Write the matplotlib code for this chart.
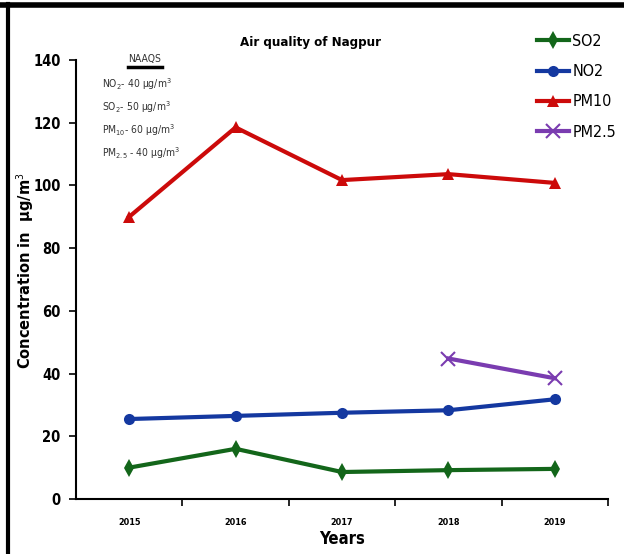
import matplotlib
matplotlib.use("Agg")
import matplotlib.pyplot as plt
from matplotlib.lines import Line2D

years = ["2015", "2016", "2017", "2018", "2019"]
so2 = [10.0, 16.0, 8.6, 9.2, 9.6]
no2 = [25.5, 26.5, 27.5, 28.3, 31.8]
pm10 = [90.0, 118.5, 101.7, 103.6, 100.8]
pm25_years = ["2018", "2019"]
pm25 = [44.8, 38.5]

plt.rcParams['font.family'] = ['DejaVu Sans']
plt.rcParams['font.stretch'] = 'condensed'

fig = plt.figure(figsize=(6.24, 5.54), dpi=100)
ax = fig.add_axes([0.1218, 0.0993, 0.8526, 0.7924])

x = list(range(len(years)))
xp = [years.index(y) for y in pm25_years]

ax.plot(x, so2, color="#13661a", lw=3, marker="d", ms=9, mew=0, label="SO2")
ax.plot(x, no2, color="#1438a0", lw=3, marker="o", ms=8, mew=0, label="NO2")
ax.plot(x, pm10, color="#cc0a0a", lw=3, marker="^", ms=9, mew=0, label="PM10")
ax.plot(xp, pm25, color="#7a3cb0", lw=3, marker="x", ms=10, mew=1.5, label="PM2.5")

ax.set_xlim(-0.5, len(years) - 0.5)
ax.set_ylim(0, 140)
ax.set_yticks(range(0, 141, 20))
ax.set_xticks(x)
ax.set_xticklabels(years, fontsize=6.5, fontweight="bold")
ax.set_xticks([i + 0.5 for i in range(len(years))], minor=True)
ax.tick_params(axis="x", which="major", length=0, pad=14)
ax.tick_params(axis="x", which="minor", length=5, width=1.2, direction="out")
ax.tick_params(axis="y", labelsize=10.5, length=5, width=1.2, direction="out", pad=6)
for lab in ax.get_yticklabels():
    lab.set_fontweight("bold")
ax.spines["top"].set_visible(False)
ax.spines["right"].set_visible(False)
ax.spines["left"].set_linewidth(1.5)
ax.spines["bottom"].set_linewidth(1.5)

ax.set_xlabel("Years", fontsize=12, fontweight="bold", labelpad=2)
ax.set_ylabel("Concentration in  µg/m$^3$", fontsize=10.5, fontweight="bold",
              stretch="normal")
ax.yaxis.set_label_coords(-0.075, 0.52)

fig.text(0.497, 0.924, "Air quality of Nagpur", fontsize=9.5, fontweight="bold",
         ha="center", va="center")

fig.legend(loc="upper left", bbox_to_anchor=(0.848, 0.953), frameon=False,
           fontsize=11.5, handlelength=2.0, labelspacing=0.95, handletextpad=0.2,
           borderpad=0)

tx = 0.163
fig.text(0.232, 0.893, "NAAQS", fontsize=7.5, ha="center", va="center", color="#333333")
fig.add_artist(Line2D([0.205, 0.26], [0.879, 0.879], color="black", lw=2.5))
fig.text(tx, 0.848, "NO$_2$- 40 µg/m$^3$", fontsize=7.5, va="center", color="#333333")
fig.text(tx, 0.807, "SO$_2$- 50 µg/m$^3$", fontsize=7.5, va="center", color="#333333")
fig.text(tx, 0.765, "PM$_{10}$- 60 µg/m$^3$", fontsize=7.5, va="center", color="#333333")
fig.text(tx, 0.723, "PM$_{2.5}$ - 40 µg/m$^3$", fontsize=7.5, va="center", color="#333333")

# outer frame lines (top and left)
fig.add_artist(Line2D([0.0, 1.0], [0.991, 0.991], color="black", lw=4))
fig.add_artist(Line2D([0.013, 0.013], [0.0, 0.993], color="black", lw=3))

fig.savefig("out.png", dpi=100)
